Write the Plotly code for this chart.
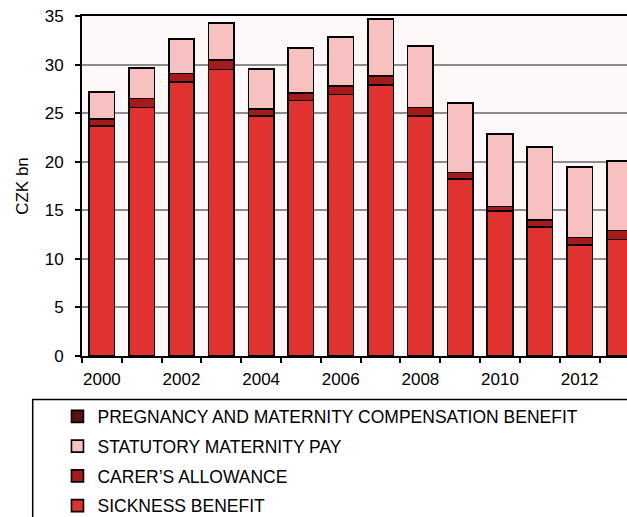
import plotly.graph_objects as go

years = list(range(2000, 2014))
sickness = [23.7, 25.6, 28.2, 29.5, 24.7, 26.3, 26.9, 27.9, 24.7, 18.2, 14.9, 13.3, 11.4, 12.0]
carers = [0.7, 0.9, 0.9, 1.0, 0.7, 0.8, 0.9, 0.9, 0.9, 0.7, 0.5, 0.7, 0.8, 0.9]
statutory = [2.8, 3.1, 3.5, 3.8, 4.1, 4.6, 5.0, 5.9, 6.3, 7.1, 7.4, 7.5, 7.2, 7.2]
pregnancy = [0.02, 0.02, 0.02, 0.02, 0.02, 0.02, 0.02, 0.02, 0.02, 0.03, 0.03, 0.03, 0.03, 0.03]
tick_years = [2000, 2002, 2004, 2006, 2008, 2010, 2012]

series = [
    ("SICKNESS BENEFIT", sickness, "#E03331", 4),
    ("CARER\u2019S ALLOWANCE", carers, "#A51A1B", 3),
    ("STATUTORY MATERNITY PAY", statutory, "#F7C1C2", 2),
    ("PREGNANCY AND MATERNITY COMPENSATION BENEFIT", pregnancy, "#5C1111", 1),
]

FONT = "Liberation Sans, Arial, sans-serif"
fig = go.Figure()
for i, (name, vals, col, rank) in enumerate(series):
    fig.add_trace(go.Bar(
        x=years, y=vals, name=name, legendgroup=f"g{i}", legendrank=rank,
        marker=dict(color=col, line=dict(color="black", width=1.6)),
    ))

fig.update_layout(
    barmode="stack",
    bargap=0.36,
    width=627, height=517,
    margin=dict(l=82, r=0, t=16, b=161, autoexpand=False),
    paper_bgcolor="white",
    plot_bgcolor="#FFF8F8",
    font=dict(family=FONT, size=17, color="black"),
    showlegend=True,
    legend=dict(
        x=-0.045, xanchor="left", y=-0.125, yanchor="top",
        traceorder="grouped", tracegroupgap=4,
        font=dict(family=FONT, size=17.5, color="black"),
        bgcolor="rgba(0,0,0,0)", borderwidth=0,
    ),
    xaxis=dict(
        range=[1999.5, 2013.19],
        tickmode="array", tickvals=tick_years, ticktext=[str(y) for y in tick_years],
        ticks="outside", ticklen=7, tickcolor="rgba(0,0,0,0)",
        showgrid=False, zeroline=False,
        showline=True, linecolor="black", linewidth=2, mirror=True,
        minor=dict(tick0=1999.5, dtick=1, ticks="outside", ticklen=5, tickcolor="black", tickwidth=1.5, showgrid=False),
        tickfont=dict(size=17),
    ),
    yaxis=dict(
        range=[0, 35], dtick=5, tick0=0,
        ticks="outside", ticklen=5, tickcolor="black", tickwidth=1.5,
        ticklabelstandoff=8,
        showgrid=True, gridcolor="#8C8C8C", gridwidth=1.5,
        zeroline=False, showline=True, linecolor="black", linewidth=2,
        title=dict(text="CZK bn", standoff=12, font=dict(size=17)),
        tickfont=dict(size=17),
    ),
    shapes=[dict(
        type="rect", xref="paper", yref="paper",
        x0=(32.7 - 82) / 545, x1=1.05, y0=-0.6, y1=(356 - 399.5) / 340,
        line=dict(color="black", width=1.5), fillcolor="rgba(0,0,0,0)", layer="above",
    )],
)

fig.write_html(
    "out.html",
    config={"displayModeBar": False},
    post_script="document.body.style.margin='0';document.body.style.overflow='hidden';",
)
